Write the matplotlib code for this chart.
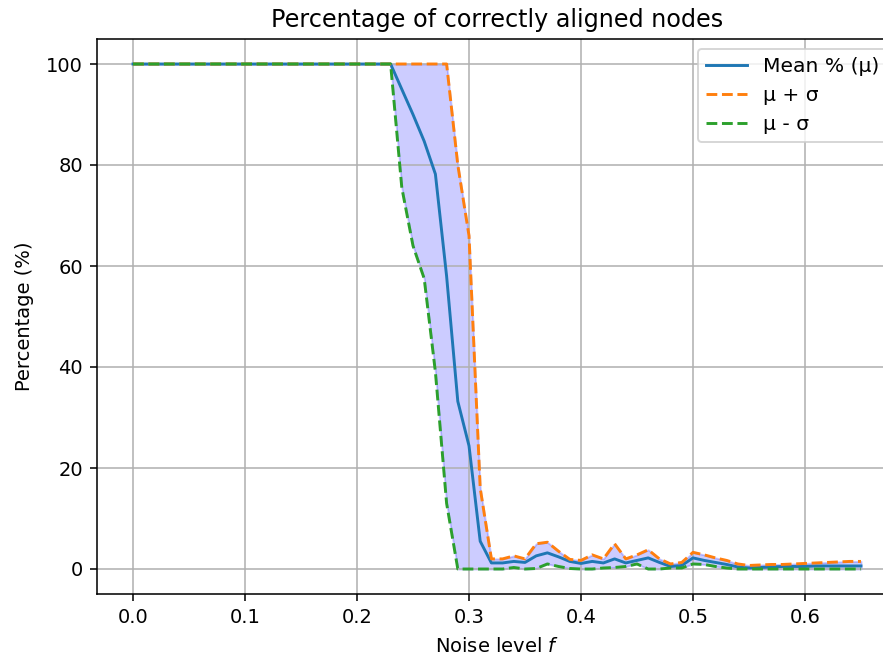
import matplotlib
matplotlib.use("Agg")
import matplotlib.pyplot as plt
import numpy as np

noise = [round(i * 0.01, 2) for i in range(66)]

mean_pct = [100.0] * 24 + [
    95.0, 90.0, 84.7, 78.2, 58.0, 33.2, 24.4, 5.5,   # 0.24 .. 0.31
    1.2, 1.2, 1.5, 1.3, 2.6, 3.2, 2.4, 1.5,          # 0.32 .. 0.39
    1.1, 1.5, 1.2, 2.0, 1.2, 1.7, 2.2, 1.3,          # 0.40 .. 0.47
    0.5, 0.7, 2.2, 1.7, 1.3, 0.9, 0.4, 0.2,          # 0.48 .. 0.55
    0.3, 0.4, 0.5, 0.5, 0.5, 0.6, 0.6, 0.6, 0.6, 0.6 # 0.56 .. 0.65
]
upper = [100.0] * 29 + [
    80.0, 66.0, 16.0,                                # 0.29 .. 0.31
    2.0, 2.0, 2.6, 2.0, 5.0, 5.3, 3.5, 1.9,          # 0.32 .. 0.39
    1.7, 2.8, 2.0, 5.0, 2.0, 2.8, 3.8, 2.0,          # 0.40 .. 0.47
    1.0, 1.3, 3.3, 2.8, 2.2, 1.7, 1.0, 0.7,          # 0.48 .. 0.55
    0.8, 0.9, 0.9, 1.0, 1.1, 1.2, 1.3, 1.4, 1.5, 1.5 # 0.56 .. 0.65
]
lower = [100.0] * 24 + [
    75.5, 64.0, 57.5, 39.0, 13.0, 0.0, 0.0, 0.0,     # 0.24 .. 0.31
    0.0, 0.0, 0.3, 0.0, 0.1, 1.0, 0.5, 0.1,          # 0.32 .. 0.39
    0.0, 0.0, 0.2, 0.3, 0.5, 1.0, 0.0, 0.0,          # 0.40 .. 0.47
    0.2, 0.2, 1.0, 0.9, 0.5, 0.2, 0.0, 0.0,          # 0.48 .. 0.55
    0.0, 0.0, 0.0, 0.0, 0.0, 0.0, 0.0, 0.0, 0.0, 0.0 # 0.56 .. 0.65
]

DPI = 140
fig = plt.figure(figsize=(883 / DPI, 655 / DPI), dpi=DPI)
ax = fig.add_axes([96.6 / 883, (655 - 594.25) / 655, 800.8 / 883, 555.5 / 655])

ax.fill_between(noise, lower, upper, color="blue", alpha=0.2)
ax.plot(noise, mean_pct, color="#1f77b4", label="Mean % (μ)")
ax.plot(noise, upper, color="#ff7f0e", linestyle="--", label="μ + σ")
ax.plot(noise, lower, color="#2ca02c", linestyle="--", label="μ - σ")

ax.set_title("Percentage of correctly aligned nodes", fontsize=12.3)
ax.set_xlabel("Noise level $f$", labelpad=5)
ax.set_ylabel("Percentage (%)", labelpad=6)
ax.grid(True)
ax.legend(loc="upper right", fontsize=10.4)

fig.savefig("out.png", dpi=DPI)
